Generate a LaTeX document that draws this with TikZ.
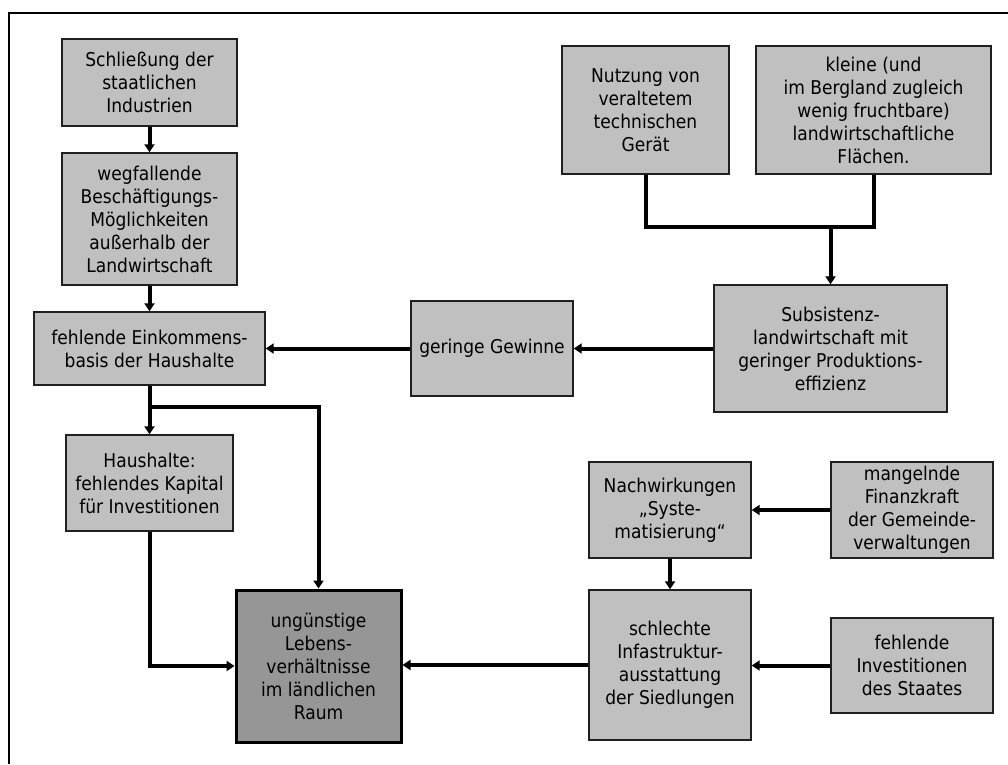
\documentclass[tikz,border=0pt]{standalone}
\usepackage{fontspec}
\setmainfont{DejaVu Sans}[FakeStretch=0.9]
\usetikzlibrary{arrows.meta,calc}

\definecolor{boxfill}{HTML}{C0C0C0}
\definecolor{mainfill}{HTML}{969696}
\definecolor{boxline}{HTML}{202020}

\tikzset{
  cbox/.style={draw=boxline, line width=1.4pt, fill=boxfill, align=center,
    inner sep=2pt, font=\fontsize{19}{23}\selectfont},
  mainbox/.style={cbox, fill=mainfill, draw=black, line width=3pt},
  link/.style={line width=4pt, line join=miter},
  conn/.style={link, -{Triangle[length=8pt,width=10pt]}}
}

\begin{document}
\begin{tikzpicture}[x=1pt,y=-1pt]
\useasboundingbox (0,0) rectangle (1008,764);

% outer frame
\draw[line width=2.6pt] (1008,13) -- (9,13) -- (9,764);

% left column
\node[cbox, minimum width=175, minimum height=87] (s1) at (149.5,82.5)
  {Schließung der\\staatlichen\\Industrien};
\node[cbox, minimum width=175, minimum height=132] (s2) at (149.5,219)
  {wegfallende\\Beschäftigungs-\\Möglichkeiten\\außerhalb der\\Landwirtschaft};
\node[cbox, minimum width=231, minimum height=73] (s3) at (149.5,348.5)
  {fehlende Einkommens-\\basis der Haushalte};
\node[cbox, minimum width=167, minimum height=96] (s4) at (149.5,483)
  {Haushalte:\\fehlendes Kapital\\für Investitionen};
\node[mainbox, minimum width=165, minimum height=152] (s5) at (318.5,666)
  {ungünstige\\Lebens-\\verhältnisse\\im ländlichen\\Raum};

% middle and right
\node[cbox, minimum width=162, minimum height=95] (gw) at (492,348.5)
  {geringe Gewinne};
\node[cbox, minimum width=233, minimum height=127] (sub) at (830.5,348.5)
  {Subsistenz-\\landwirtschaft mit\\geringer Produktions-\\effizienz};
\node[cbox, minimum width=167, minimum height=128] (nu) at (645.5,110)
  {Nutzung von\\veraltetem\\technischen\\Gerät};
\node[cbox, minimum width=235, minimum height=128] (kl) at (873.5,110)
  {kleine (und\\im Bergland zugleich\\wenig fruchtbare)\\landwirtschaftliche\\Flächen.};
\node[cbox, minimum width=162, minimum height=96] (na) at (670,510)
  {Nachwirkungen\\„Syste-\\matisierung“};
\node[cbox, minimum width=162, minimum height=96] (ma) at (912,510)
  {mangelnde\\Finanzkraft\\der Gemeinde-\\verwaltungen};
\node[cbox, minimum width=162, minimum height=150] (sc) at (670,665)
  {schlechte\\Infastruktur-\\ausstattung\\der Siedlungen};
\node[cbox, minimum width=162, minimum height=95] (fi) at (912,665.5)
  {fehlende\\Investitionen\\des Staates};

% junction points
\coordinate (br) at ($(s3.south)+(0,21)$);
\coordinate (jn) at ($(sub.north)+(0,-57)$);

% connectors
\draw[conn] (s1.south) -- (s2.north);
\draw[conn] (s2.south) -- (s3.north);
\draw[link] (nu.south) |- (jn) -| (kl.south);
\draw[conn] (jn) -- (sub.north);
\draw[conn] (sub.west) -- (sub.west -| gw.east);
\draw[conn] (gw.west) -- (gw.west -| s3.east);
\draw[conn] (s3.south) -- (s4.north);
\draw[conn] (br) -| (s5.north);
\draw[conn] (s4.south) |- (s5.west);
\draw[conn] (sc.west) -- (sc.west -| s5.east);
\draw[conn] (ma.west) -- (ma.west -| na.east);
\draw[conn] (na.south) -- (sc.north);
\draw[conn] (fi.west) -- (fi.west -| sc.east);
\end{tikzpicture}
\end{document}
